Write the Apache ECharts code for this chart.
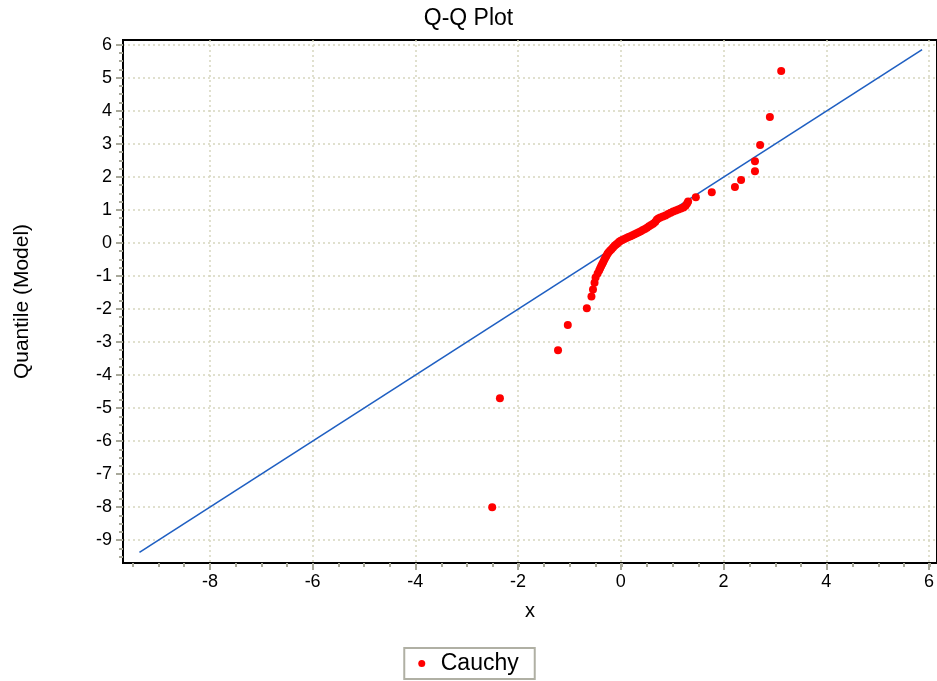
<!DOCTYPE html>
<html>
<head>
<meta charset="utf-8">
<script src="https://cdn.jsdelivr.net/npm/echarts@6/dist/echarts.min.js"></script>
<style>
html,body{margin:0;padding:0;background:#fff;}
#chart{width:937px;height:681px;}
</style>
</head>
<body>
<div id="chart"></div>
<script>
// ---- data ----
const seriesName = 'Cauchy';
const sampleX = [-2.51,-2.36,-1.23,-1.04,-0.67,-0.58,-0.55,-0.52,-0.50,-0.46,
  -0.43,-0.41,-0.39,-0.37,-0.35,-0.33,-0.31,-0.29,-0.27,-0.25,-0.22,-0.19,-0.16,-0.13,-0.10,-0.07,-0.04,-0.01,
  0.02,0.06,0.10,0.14,0.18,0.22,0.26,0.30,0.34,0.38,0.42,0.46,0.50,0.54,0.58,0.62,0.66,0.69,0.72,0.76,0.81,0.86,
  0.91,0.96,1.01,1.06,1.11,1.16,1.21,1.25,1.28,1.30,
  1.45,1.76,2.21,2.33,2.60,2.60,2.70,2.89,3.11];
const modelY = [-8.00,-4.70,-3.25,-2.49,-1.98,-1.62,-1.41,-1.21,-1.05,-0.93,
  -0.84,-0.77,-0.70,-0.64,-0.58,-0.51,-0.45,-0.40,-0.34,-0.29,-0.24,-0.19,-0.14,-0.09,-0.05,-0.01,0.03,0.06,
  0.09,0.12,0.15,0.18,0.20,0.23,0.26,0.29,0.32,0.35,0.39,0.42,0.46,0.50,0.54,0.58,0.63,0.70,0.74,0.77,0.80,0.83,
  0.87,0.91,0.95,0.98,1.01,1.04,1.07,1.12,1.19,1.25,
  1.38,1.53,1.69,1.90,2.17,2.47,2.96,3.81,5.20];
const refLineX = [-9.37, 5.85];
const refLineY = [-9.37, 5.85];
const xRange = [-9.69, 6.14];
const yRange = [-9.69, 6.14];
const xMajorTicks = [-8, 6, 2];      // min, max, step
const xMinorTicks = [-9.5, 6, 0.5];
const yMajorTicks = [-9, 6, 1];
const yMinorTicks = [-9.5, 6, 0.25];

// ---- layout ----
const L = 123, T = 40, W = 814, H = 523;
const FONT = 'Liberation Sans';
function xPx(v){ return L + (v - xRange[0]) / (xRange[1] - xRange[0]) * W; }
function yPx(v){ return T + (yRange[1] - v) / (yRange[1] - yRange[0]) * H; }

const tickColor = '#a8a89a';
const gridColor = '#d6d6bf';

const grids = [
  {left: L, top: T, width: W, height: H, show: true, borderColor: '#000', borderWidth: 2, backgroundColor: 'transparent'},
  {left: xPx(xMajorTicks[0]), width: xPx(xMajorTicks[1]) - xPx(xMajorTicks[0]), top: T, height: H},
  {left: xPx(xMinorTicks[0]), width: xPx(xMinorTicks[1]) - xPx(xMinorTicks[0]), top: T, height: H},
  {left: L, width: W, top: yPx(yMajorTicks[1]), height: yPx(yMajorTicks[0]) - yPx(yMajorTicks[1])},
  {left: L, width: W, top: yPx(yMinorTicks[1]), height: yPx(yMinorTicks[0]) - yPx(yMinorTicks[1])}
];

const hiddenAxis = (gi) => ({type: 'value', gridIndex: gi, min: 0, max: 1, show: false});

const xAxes = [
  {type: 'value', gridIndex: 0, min: xRange[0], max: xRange[1],
   name: 'x', nameLocation: 'middle', nameGap: 38,
   nameTextStyle: {fontFamily: FONT, fontSize: 20, color: '#000'},
   axisLine: {show: true, onZero: false, lineStyle: {color: '#000', width: 2}},
   axisTick: {show: false}, axisLabel: {show: false}, splitLine: {show: false}},
  {type: 'value', gridIndex: 1, min: xMajorTicks[0], max: xMajorTicks[1], interval: xMajorTicks[2],
   axisLine: {show: false},
   axisTick: {show: true, length: 7, lineStyle: {color: tickColor, width: 2}},
   axisLabel: {show: true, margin: 10, fontFamily: FONT, fontSize: 18, color: '#000'},
   splitLine: {show: true, lineStyle: {color: gridColor, width: 1.5, type: [2, 3]}}},
  {type: 'value', gridIndex: 2, min: xMinorTicks[0], max: xMinorTicks[1], interval: xMinorTicks[2],
   axisLine: {show: false},
   axisTick: {show: true, length: 4, lineStyle: {color: tickColor, width: 2}},
   axisLabel: {show: false}, splitLine: {show: false}},
  hiddenAxis(3), hiddenAxis(4)
];

const yAxes = [
  {type: 'value', gridIndex: 0, min: yRange[0], max: yRange[1],
   name: 'Quantile (Model)', nameLocation: 'middle', nameGap: 90, nameRotate: 90,
   nameTextStyle: {fontFamily: FONT, fontSize: 21, color: '#000'},
   axisLine: {show: true, onZero: false, lineStyle: {color: '#000', width: 2}},
   axisTick: {show: false}, axisLabel: {show: false}, splitLine: {show: false}},
  hiddenAxis(1), hiddenAxis(2),
  {type: 'value', gridIndex: 3, min: yMajorTicks[0], max: yMajorTicks[1], interval: yMajorTicks[2],
   axisLine: {show: false},
   axisTick: {show: true, length: 7, lineStyle: {color: tickColor, width: 2}},
   axisLabel: {show: true, margin: 11, fontFamily: FONT, fontSize: 18, color: '#000'},
   splitLine: {show: true, lineStyle: {color: gridColor, width: 1.5, type: [2, 3]}}},
  {type: 'value', gridIndex: 4, min: yMinorTicks[0], max: yMinorTicks[1], interval: yMinorTicks[2],
   axisLine: {show: false},
   axisTick: {show: true, length: 4, lineStyle: {color: tickColor, width: 2}},
   axisLabel: {show: false}, splitLine: {show: false}}
];

const scatterData = sampleX.map((x, i) => [x, modelY[i]]);
const lineData = refLineX.map((x, i) => [x, refLineY[i]]);

const chart = echarts.init(document.getElementById('chart'), null, {renderer: 'canvas'});
chart.setOption({
  animation: false,
  backgroundColor: '#fff',
  title: {text: 'Q-Q Plot', left: 'center', top: 2,
    textStyle: {fontFamily: FONT, fontSize: 23, fontWeight: 'normal', color: '#000'}},
  legend: {data: [seriesName], left: 'center', bottom: 2,
    borderColor: '#b0b0a4', borderWidth: 2, backgroundColor: '#fff',
    padding: [4, 16, 4, 14], itemWidth: 28, itemHeight: 7,
    textStyle: {fontFamily: FONT, fontSize: 23, color: '#000'}},
  grid: grids,
  xAxis: xAxes,
  yAxis: yAxes,
  series: [
    {type: 'line', name: 'ref', xAxisIndex: 0, yAxisIndex: 0, data: lineData,
     showSymbol: false, symbol: 'none', lineStyle: {color: '#1f5fc2', width: 1.6}, z: 2, silent: true},
    {type: 'scatter', name: seriesName, xAxisIndex: 0, yAxisIndex: 0, data: scatterData,
     symbol: 'circle', symbolSize: 8, itemStyle: {color: '#ff0000', opacity: 1}, z: 3}
  ]
});
</script>
</body>
</html>
